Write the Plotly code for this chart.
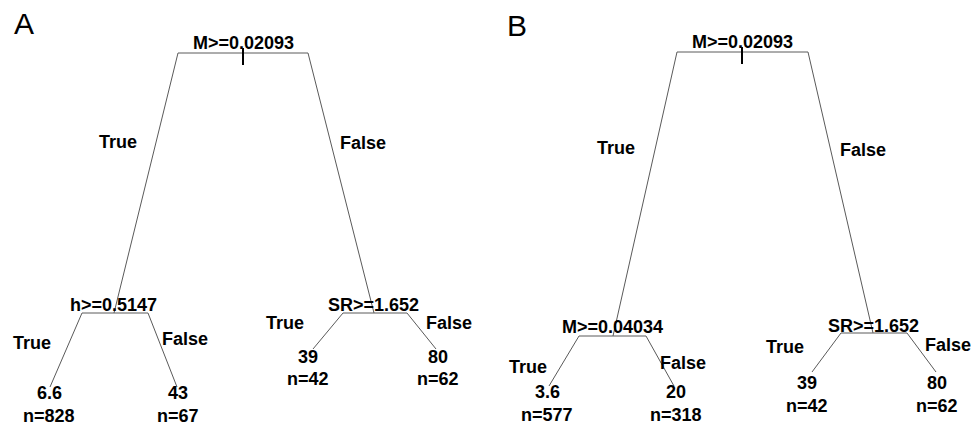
import plotly.graph_objects as go

# ---------------- data ----------------
panel_tags = ["A", "B"]
branch_words = ["True", "False"]

A_splits = ["M>=0.02093", "h>=0.5147", "SR>=1.652"]
A_leaf_means = ["6.6", "43", "39", "80"]
A_leaf_n = [828, 67, 42, 62]

B_splits = ["M>=0.02093", "M>=0.04034", "SR>=1.652"]
B_leaf_means = ["3.6", "20", "39", "80"]
B_leaf_n = [577, 318, 42, 62]

# ---------------- layout (pixel positions of the drawing) ----------------
# each split node: (label x, label y, node x, bar y, bar left, bar right)
A_split_pos = [(243, 43, 243, 53, 178, 308),
               (113, 305, 114, 313, 82, 148),
               (373, 305, 374, 313, 343, 407)]
B_split_pos = [(742, 42, 742, 52, 677, 808),
               (612, 327, 613, 336, 579, 646),
               (873, 326, 873, 333, 841, 907)]
# each leaf: (branch end x, branch end y, label x, mean y, n y)
A_leaf_pos = [(50, 387, 49, 393, 416), (177, 387, 178, 393, 416),
              (313, 349, 308, 357, 379), (436, 349, 438, 357, 379)]
B_leaf_pos = [(549, 386, 547, 392, 415), (674, 386, 676, 392, 415),
              (812, 372, 807, 383, 406), (936, 372, 937, 383, 406)]
# branch word positions per split: (True x, True y, False x, False y)
A_word_pos = [(118, 142, 363, 143), (32, 343, 185, 339), (285, 323, 449, 323)]
B_word_pos = [(616, 148, 863, 150), (528, 367, 683, 363), (785, 347, 948, 345)]
tag_pos = [(24, 23), (517, 25)]
tick_up, tick_down = 5, 12

W, H = 971, 427
LINE = "#5a5a5a"
FONT = "Liberation Sans"

fig = go.Figure()
annotations = []


def txt(x, y, s, size=18, bold=True):
    annotations.append(dict(
        x=x, y=y, xref="x", yref="y", text=s, showarrow=False,
        xanchor="center", yanchor="middle",
        font=dict(family=FONT, size=size, color="#000000",
                  weight="bold" if bold else "normal")))


def draw_tree(splits, leaf_means, leaf_n, split_pos, leaf_pos, word_pos):
    xs, ys = [], []
    # children: root -> splits 1,2 ; split1 -> leaves 0,1 ; split2 -> leaves 2,3
    for i, (lx, ly, nx, by, bl, br) in enumerate(split_pos):
        xs += [bl, br, None]
        ys += [by, by, None]
        if i == 0:
            left = split_pos[1]
            right = split_pos[2]
            xs += [bl, left[2], None, br, right[2], None]
            ys += [by, left[3], None, by, right[3], None]
        else:
            a = leaf_pos[2 * (i - 1)]
            b = leaf_pos[2 * (i - 1) + 1]
            xs += [bl, a[0], None, br, b[0], None]
            ys += [by, a[1], None, by, b[1], None]
        txt(lx, ly, splits[i])
        wx1, wy1, wx2, wy2 = word_pos[i]
        txt(wx1, wy1, branch_words[0])
        txt(wx2, wy2, branch_words[1])
    fig.add_trace(go.Scatter(x=xs, y=ys, mode="lines",
                             line=dict(color=LINE, width=1),
                             hoverinfo="skip", showlegend=False))
    for j, (ex, ey, lx, my, ny) in enumerate(leaf_pos):
        txt(lx, my, leaf_means[j])
        txt(lx, ny, "n=" + str(leaf_n[j]))
    # root tick (drawn over the label)
    r = split_pos[0]
    return (r[2], r[3])


ticks = [draw_tree(A_splits, A_leaf_means, A_leaf_n, A_split_pos, A_leaf_pos, A_word_pos),
         draw_tree(B_splits, B_leaf_means, B_leaf_n, B_split_pos, B_leaf_pos, B_word_pos)]

for tag, (tx, ty) in zip(panel_tags, tag_pos):
    txt(tx, ty, tag, size=30, bold=False)

shapes = [dict(type="line", xref="x", yref="y", x0=tx, x1=tx,
               y0=ty - tick_up, y1=ty + tick_down,
               line=dict(color="#000000", width=2), layer="above")
          for tx, ty in ticks]

fig.update_layout(
    width=W, height=H,
    margin=dict(l=0, r=0, t=0, b=0),
    paper_bgcolor="white", plot_bgcolor="white",
    xaxis=dict(range=[0, W], visible=False, fixedrange=True),
    yaxis=dict(range=[H, 0], visible=False, fixedrange=True),
    annotations=annotations,
    shapes=shapes,
    showlegend=False,
)

fig.write_html("out.html", config={"displayModeBar": False})
